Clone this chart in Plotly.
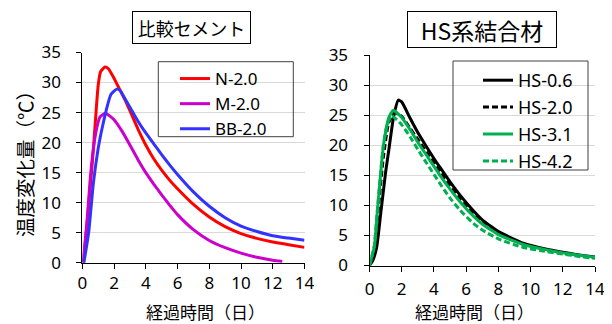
import plotly.graph_objects as go

# ---------------- data (left: 比較セメント) ----------------
t_N = [0.06, 0.3, 0.5, 0.7, 0.85, 1.0, 1.15, 1.43, 1.65, 1.85, 2.0, 2.27, 2.69, 3.0, 3.5, 4.0, 4.5, 5.0, 5.5, 6.0, 7.0, 8.0, 9.0, 10.0, 11.0, 12.0, 13.0, 14.0]
v_N = [0, 6.5, 12.5, 19, 24.5, 29.5, 31.8, 32.6, 32.3, 31.4, 30.7, 29.3, 27.1, 25.3, 22.3, 19.6, 17.3, 15.4, 13.75, 12.3, 9.7, 7.6, 6.0, 4.85, 4.05, 3.45, 3.0, 2.55]

t_M = [0.06, 0.3, 0.5, 0.7, 0.9, 1.1, 1.45, 2.0, 2.5, 3.0, 3.5, 4.0, 4.5, 5.0, 5.5, 6.0, 7.0, 8.0, 9.0, 10.0, 11.0, 12.0, 12.6]
v_M = [0, 7, 14, 19, 22.3, 24.2, 24.9, 23.8, 21.9, 19.6, 17.2, 15.0, 13.1, 11.3, 9.6, 8.0, 5.5, 3.7, 2.5, 1.6, 0.9, 0.4, 0.2]

t_BB = [0.1, 0.4, 0.7, 1.0, 1.2, 1.5, 1.8, 2.17, 2.4, 2.69, 3.0, 3.5, 4.0, 4.5, 5.0, 5.5, 6.0, 7.0, 8.0, 9.0, 10.0, 11.0, 12.0, 13.0, 14.0]
v_BB = [0, 5, 13.3, 19, 21.8, 25.3, 28, 28.9, 28.6, 27.3, 25.9, 23.6, 21.6, 19.8, 18.0, 16.3, 14.7, 11.8, 9.4, 7.5, 6.1, 5.2, 4.5, 4.1, 3.75]

# ---------------- data (right: HS系結合材) ----------------
t_H06 = [0.0, 0.2, 0.45, 0.7, 1.0, 1.23, 1.5, 1.79, 2.0, 2.5, 3.0, 3.55, 4.0, 4.38, 5.0, 5.62, 6.45, 7.0, 8.1, 9.55, 11.0, 12.0, 13.0, 14.0]
v_H06 = [0, 0.8, 3.1, 8.7, 15.5, 19.8, 24.8, 27.5, 27.2, 24.6, 22.1, 19.7, 17.8, 16.3, 13.9, 11.7, 9.1, 7.6, 5.5, 3.7, 2.7, 2.2, 1.75, 1.4]

t_H20 = [0.0, 0.2, 0.48, 0.86, 1.2, 1.58, 2.0, 2.52, 3.0, 3.55, 4.38, 5.0, 5.62, 6.45, 7.0, 8.1, 9.55, 11.0, 12.0, 13.0, 14.0]
v_H20 = [0, 1.2, 7.5, 18, 23.8, 25.4, 24.8, 22.8, 21.0, 18.8, 15.6, 13.3, 11.2, 8.7, 7.4, 5.3, 3.55, 2.6, 2.05, 1.65, 1.3]

t_H31 = [0.0, 0.3, 0.48, 0.86, 1.2, 1.48, 2.0, 2.52, 3.0, 3.55, 4.38, 5.0, 5.62, 6.45, 7.0, 8.1, 9.55, 11.0, 12.0, 13.0, 14.0]
v_H31 = [0, 3.1, 8.7, 19.8, 24.6, 25.8, 24.6, 22.6, 20.5, 18.3, 15.0, 12.7, 10.6, 8.2, 6.9, 5.0, 3.5, 2.6, 2.1, 1.7, 1.35]

t_H42 = [0.0, 0.3, 0.48, 0.86, 1.1, 1.38, 2.0, 2.52, 3.0, 3.55, 4.38, 5.0, 5.62, 6.45, 7.0, 8.1, 9.55, 11.0, 12.0, 13.0, 14.0]
v_H42 = [0, 3.3, 9, 20, 23.5, 24.9, 23.4, 21.4, 19.3, 17.0, 13.6, 11.2, 9.2, 7.0, 5.9, 4.3, 3.0, 2.3, 1.9, 1.5, 1.2]

x_ticks = [0, 2, 4, 6, 8, 10, 12, 14]
y_ticks = [0, 5, 10, 15, 20, 25, 30, 35]

left_title = "比較セメント"
right_title = "HS系結合材"
x_title = "経過時間（日）"
y_title = "温度変化量（℃）"

FONT = "Noto Sans, Noto Sans CJK JP, sans-serif"
CJK = "Noto Sans CJK JP, Noto Sans, sans-serif"

fig = go.Figure()

def add(x, y, name, color, dash, xa, ya, leg, grp):
    fig.add_trace(go.Scatter(
        x=x, y=y, name=name, mode="lines",
        line=dict(color=color, width=3, dash=dash, shape="spline", smoothing=0.5),
        xaxis=xa, yaxis=ya, legend=leg, legendgroup=grp))

add(t_N, v_N, "N-2.0", "#FF0000", "solid", "x", "y", "legend", "a")
add(t_M, v_M, "M-2.0", "#CC00CC", "solid", "x", "y", "legend", "b")
add(t_BB, v_BB, "BB-2.0", "#3333FF", "solid", "x", "y", "legend", "c")

add(t_H06, v_H06, "HS-0.6", "#000000", "solid", "x2", "y2", "legend2", "d")
add(t_H20, v_H20, "HS-2.0", "#000000", "6px,3px", "x2", "y2", "legend2", "e")
add(t_H31, v_H31, "HS-3.1", "#00B050", "solid", "x2", "y2", "legend2", "f")
add(t_H42, v_H42, "HS-4.2", "#00B050", "6px,3px", "x2", "y2", "legend2", "g")

# the page places the figure 8 px from the top-left corner of the window
OFF = 8
W, H = 604, 316
def px(x): return (x - OFF) / W
def py(y): return 1 - (y - OFF) / H

xcommon = dict(range=[0, 14], tickvals=x_ticks, showline=True, linecolor="#000000", linewidth=1,
               ticks="outside", ticklen=5, tickcolor="#000000", showgrid=False, zeroline=False,
               automargin=False, tickfont=dict(family=FONT, size=17, color="#000000"))
ycommon = dict(range=[0, 35], tickvals=y_ticks, showline=True, linecolor="#000000", linewidth=1,
               ticks="outside", ticklen=5, tickcolor="#000000", showgrid=True, gridcolor="#D9D9D9",
               gridwidth=1, zeroline=False, ticklabelstandoff=12, automargin=False,
               tickfont=dict(family=FONT, size=17, color="#000000"))

fig.update_layout(
    width=W, height=H, autosize=False,
    margin=dict(l=0, r=0, t=0, b=0, pad=0, autoexpand=False),
    paper_bgcolor="white", plot_bgcolor="white",
    xaxis=dict(domain=[px(82.3), px(304.5)], anchor="y", ticklabelstandoff=0, **xcommon),
    yaxis=dict(domain=[py(262.7), py(52.5)], anchor="x", **ycommon),
    xaxis2=dict(domain=[px(369.5), px(595)], anchor="y2", ticklabelstandoff=3, **xcommon),
    yaxis2=dict(domain=[py(265.5), py(55)], anchor="x2", **ycommon),
    legend=dict(x=px(175), y=py(61), xanchor="left", yanchor="top", bgcolor="rgba(0,0,0,0)",
                borderwidth=0, font=dict(family=FONT, size=17, color="#000000"),
                tracegroupgap=0, traceorder="normal"),
    legend2=dict(x=px(478), y=py(62), xanchor="left", yanchor="top", bgcolor="rgba(0,0,0,0)",
                 borderwidth=0, font=dict(family=FONT, size=18, color="#000000"),
                 tracegroupgap=0.5, traceorder="grouped"),
    showlegend=True,
)

# legend frames
fig.add_shape(type="rect", xref="paper", yref="paper", x0=px(158.3), x1=px(293.3), y0=py(136.7), y1=py(61.7),
              line=dict(color="#404040", width=1), fillcolor="rgba(0,0,0,0)", layer="above")
fig.add_shape(type="rect", xref="paper", yref="paper", x0=px(453), x1=px(588), y0=py(170), y1=py(61),
              line=dict(color="#404040", width=1), fillcolor="rgba(0,0,0,0)", layer="above")

# boxed chart titles
fig.add_annotation(text=left_title, xref="paper", yref="paper", x=px(191), y=py(27.5),
                   xanchor="center", yanchor="middle", showarrow=False,
                   font=dict(family=CJK, size=18, color="#000000"),
                   bordercolor="#000000", borderwidth=1, borderpad=0, width=117, height=31, bgcolor="white")
fig.add_annotation(text=right_title, xref="paper", yref="paper", x=px(482), y=py(29.7),
                   xanchor="center", yanchor="middle", showarrow=False,
                   font=dict(family=CJK, size=23, color="#000000"),
                   bordercolor="#000000", borderwidth=1, borderpad=0, width=148, height=35, bgcolor="white")

# axis titles
fig.add_annotation(text=x_title, xref="paper", yref="paper", x=px(205), y=py(311.5),
                   xanchor="center", yanchor="middle", showarrow=False,
                   font=dict(family=CJK, size=17, color="#000000"))
fig.add_annotation(text=x_title, xref="paper", yref="paper", x=px(474), y=py(311.5),
                   xanchor="center", yanchor="middle", showarrow=False,
                   font=dict(family=CJK, size=17, color="#000000"))
fig.add_annotation(text=y_title, xref="paper", yref="paper", x=px(24), y=py(159),
                   xanchor="center", yanchor="middle", showarrow=False, textangle=-90,
                   font=dict(family=CJK, size=19.5, color="#000000"))

fig.write_html("out.html")
